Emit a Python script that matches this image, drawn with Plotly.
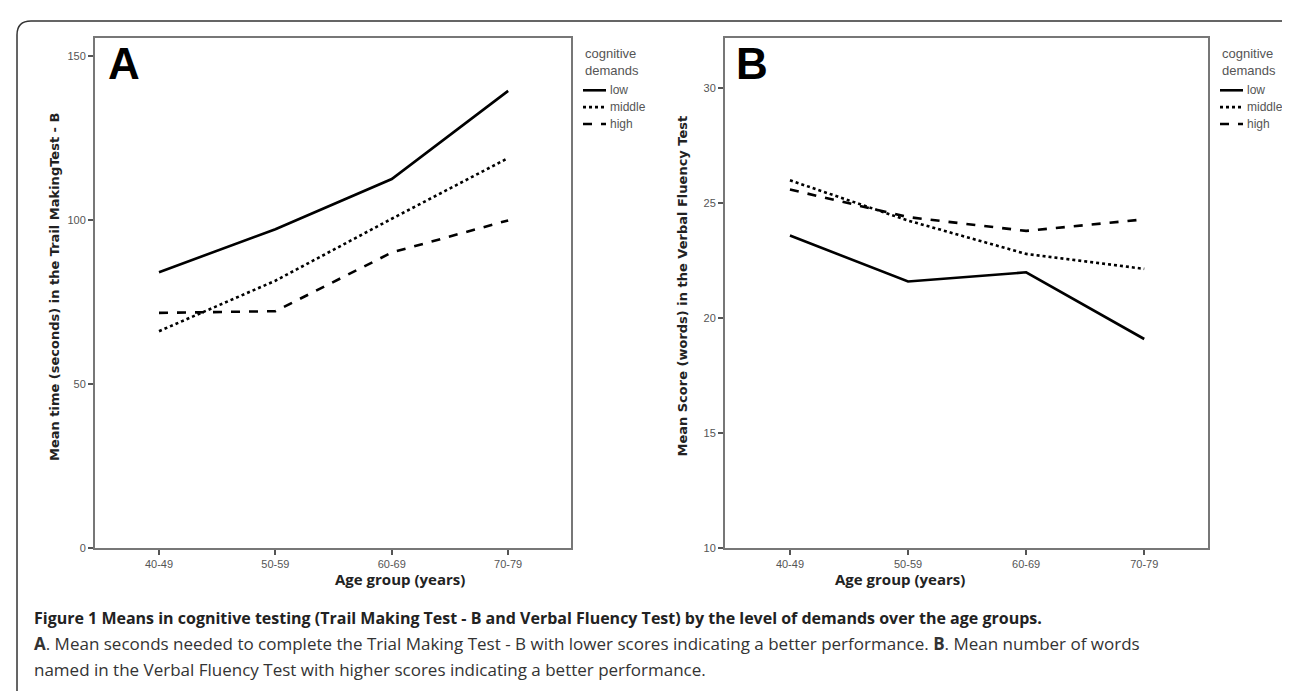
import plotly.graph_objects as go

# ---------------- data ----------------
age_groups = ["40-49", "50-59", "60-69", "70-79"]
demand_levels = ["low", "middle", "high"]

# Panel A: mean time (seconds) in Trail Making Test - B
tmt_low = [84.2, 97.3, 112.6, 139.5]
tmt_middle = [66.2, 81.6, 100.5, 119.0]
tmt_high = [71.8, 72.3, 90.2, 100.0]

# Panel B: mean score (words) in Verbal Fluency Test
vft_low = [23.6, 21.6, 22.0, 19.1]
vft_middle = [26.0, 24.25, 22.8, 22.15]
vft_high = [25.6, 24.4, 23.8, 24.3]

tmt_ticks = [0, 50, 100, 150]
vft_ticks = [10, 15, 20, 25, 30]

legend_title = "cognitive<br>demands"
dash_styles = {"low": "solid", "middle": "dot", "high": "dash"}

W, H = 1290, 691


def px(x):
    return x / W


def py(y):
    return 1 - y / H


fig = go.Figure()

series_a = {"low": tmt_low, "middle": tmt_middle, "high": tmt_high}
series_b = {"low": vft_low, "middle": vft_middle, "high": vft_high}

for lvl in demand_levels:
    fig.add_trace(go.Scatter(
        x=age_groups, y=series_a[lvl], mode="lines", name=lvl,
        line=dict(color="black", width=2.6, dash=dash_styles[lvl]),
        xaxis="x", yaxis="y", showlegend=False))
for lvl in demand_levels:
    fig.add_trace(go.Scatter(
        x=age_groups, y=series_b[lvl], mode="lines", name=lvl,
        line=dict(color="black", width=2.6, dash=dash_styles[lvl]),
        xaxis="x2", yaxis="y2", showlegend=False))

narrow = "Liberation Sans Narrow, Liberation Sans, Arial"
tick_font = dict(family=narrow, size=11, color="#555")
axis_common = dict(
    showgrid=False, zeroline=False, showline=True, linecolor="#777", linewidth=2,
    mirror=True, ticks="outside", ticklen=5, tickcolor="#555", tickwidth=1.5,
    tickfont=tick_font, fixedrange=True,
)

fig.update_layout(
    width=W, height=H,
    margin=dict(l=0, r=0, t=0, b=0),
    paper_bgcolor="white", plot_bgcolor="white",
    xaxis=dict(domain=[px(87), px(563)], range=[-0.55, 3.54], anchor="y", **axis_common),
    yaxis=dict(domain=[py(545), py(30)], range=[0, 155.7], anchor="x", tickvals=tmt_ticks, **axis_common),
    xaxis2=dict(domain=[px(717), px(1200)], range=[-0.55, 3.54], anchor="y2", **axis_common),
    yaxis2=dict(domain=[py(545), py(30)], range=[10, 32.2], anchor="x2", tickvals=vft_ticks, **axis_common),
    showlegend=False,
)


def P(x, y):
    return f"{px(x):.5f},{py(y):.5f}"


# outer rounded frame
r = 14
x0, x1, y0, y1 = 9, 1286, 13, 700
path_paper = (f"M {P(x0, y1)} L {P(x0, y0 + r)} Q {P(x0, y0)} {P(x0 + r, y0)} "
              f"L {P(x1 - r, y0)} Q {P(x1, y0)} {P(x1, y0 + r)} L {P(x1, y1)}")
fig.add_shape(type="path", xref="paper", yref="paper", path=path_paper,
              line=dict(color="#333", width=1.5))

annotations = []

# custom legends (one per panel)
item_rows = {"low": 83, "middle": 100, "high": 117}
for lx in (575, 1212):
    annotations.append(dict(text=legend_title, x=px(lx), y=py(54), xref="paper", yref="paper",
                            xanchor="left", yanchor="middle", align="left", showarrow=False,
                            font=dict(family=narrow, size=13, color="#555")))
    for lvl in demand_levels:
        yy = item_rows[lvl]
        fig.add_shape(type="line", xref="paper", yref="paper",
                      x0=px(lx), x1=px(lx + 23), y0=py(yy), y1=py(yy),
                      line=dict(color="black", width=2.6, dash=dash_styles[lvl]))
        annotations.append(dict(text=lvl, x=px(lx + 25), y=py(yy), xref="paper", yref="paper",
                                xanchor="left", yanchor="middle", showarrow=False,
                                font=dict(family=narrow, size=12, color="#555")))

# panel letters
for letter, lx in (("A", 98), ("B", 726)):
    annotations.append(dict(text=f"<b>{letter}</b>", x=px(lx), y=py(56), xref="paper", yref="paper",
                            xanchor="left", yanchor="middle", showarrow=False,
                            font=dict(family="Liberation Sans, Arial", size=44, color="black")))

# y axis titles
ytitle_font = dict(family="DejaVu Sans, Verdana", size=13, color="#222")
annotations.append(dict(text="<b>Mean time (seconds) in the Trail MakingTest - B</b>",
                        x=px(37), y=py(281), xref="paper", yref="paper", textangle=-90,
                        showarrow=False, font=ytitle_font))
annotations.append(dict(text="<b>Mean Score (words) in the Verbal Fluency Test</b>",
                        x=px(675), y=py(281), xref="paper", yref="paper", textangle=-90,
                        showarrow=False, font=ytitle_font))
# x axis titles
xtitle_font = dict(family="Open Sans, Arial", size=15, color="#222")
annotations.append(dict(text="<b>Age group (years)</b>", x=px(325), y=py(588), xref="paper",
                        yref="paper", showarrow=False, font=xtitle_font))
annotations.append(dict(text="<b>Age group (years)</b>", x=px(959), y=py(588), xref="paper",
                        yref="paper", showarrow=False, font=xtitle_font))
# caption
annotations.append(dict(
    text="<b>Figure 1 Means in cognitive testing (Trail Making Test - B and Verbal Fluency Test) by the level of demands over the age groups.</b>",
    x=px(24), y=py(628), xref="paper", yref="paper", xanchor="left", showarrow=False,
    font=dict(family="Open Sans, Arial", size=16, color="#222")))
annotations.append(dict(
    text="<b>A</b>. Mean seconds needed to complete the Trial Making Test - B with lower scores indicating a better performance. <b>B</b>. Mean number of words",
    x=px(24), y=py(655), xref="paper", yref="paper", xanchor="left", showarrow=False,
    font=dict(family="Open Sans, Arial", size=17, color="#333")))
annotations.append(dict(
    text="named in the Verbal Fluency Test with higher scores indicating a better performance.",
    x=px(24), y=py(681), xref="paper", yref="paper", xanchor="left", showarrow=False,
    font=dict(family="Open Sans, Arial", size=17, color="#333")))

fig.update_layout(annotations=annotations)

fig.write_html("out.html")
